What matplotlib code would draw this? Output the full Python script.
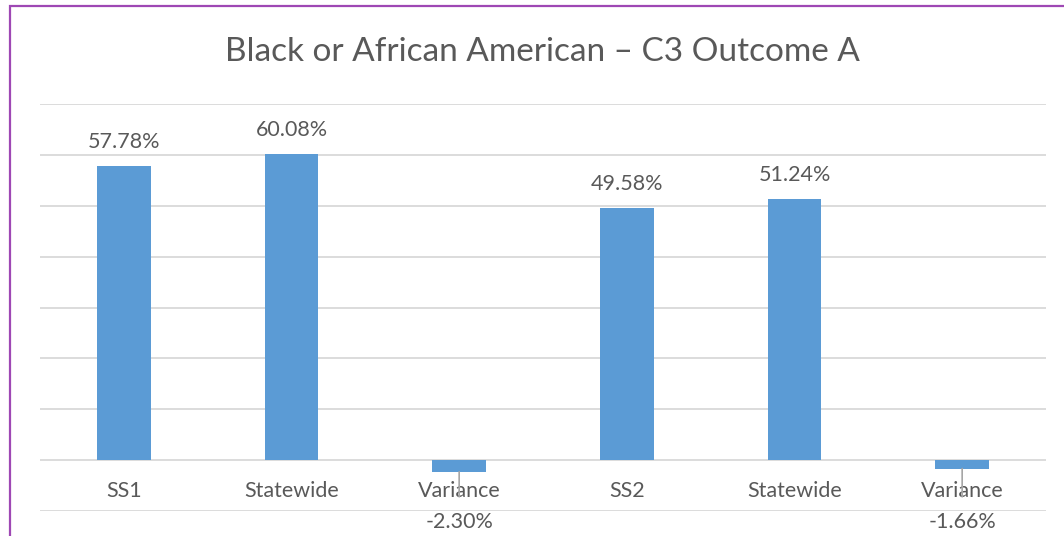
import matplotlib
matplotlib.use("Agg")
import matplotlib.pyplot as plt
from matplotlib.patches import Rectangle

categories = ["SS1", "Statewide", "Variance", "SS2", "Statewide", "Variance"]
values = [57.78, 60.08, -2.30, 49.58, 51.24, -1.66]
labels = ["57.78%", "60.08%", "-2.30%", "49.58%", "51.24%", "-1.66%"]
title = "Black or African American \u2013 C3 Outcome A"

TEXT = "#595959"
BAR = "#5B9BD5"
GRID = "#D9D9D9"

plt.rcParams['font.family'] = ['Lato', 'DejaVu Sans']

W, H = 1064, 536
fig = plt.figure(figsize=(W / 100, H / 100), dpi=100)
ax = fig.add_axes([40 / W, 25 / H, (1046 - 40) / W, (511 - 104) / H])

x = list(range(len(categories)))
ax.bar(x, values, width=0.32, color=BAR, zorder=3)
ax.set_xlim(-0.5, len(categories) - 0.5)
ax.set_ylim(-10, 70)
ax.set_yticks(range(-10, 71, 10))
ax.yaxis.grid(True, color=GRID, linewidth=1.3, zorder=0)
ax.tick_params(left=False, labelleft=False, bottom=False, labelbottom=False)
for s in ax.spines.values():
    s.set_visible(False)

FS = 15.5
for i, (c, v, lab) in enumerate(zip(categories, values, labels)):
    ax.annotate(c, xy=(i, 0), xytext=(0, -31), textcoords='offset pixels',
                ha='center', va='center', fontsize=FS, color=TEXT, zorder=2)
    if v >= 0:
        ax.annotate(lab, xy=(i, v), xytext=(0, 24), textcoords='offset pixels',
                    ha='center', va='center', fontsize=FS, color=TEXT)
    else:
        ax.annotate(lab, xy=(i, v), xytext=(0, -62 - v * 5.1), textcoords='offset pixels',
                    ha='center', va='center', fontsize=FS, color=TEXT,
                    arrowprops=dict(arrowstyle='-', color='#A6A6A6', lw=1.2,
                                    shrinkA=9, shrinkB=0))

fig.text(542 / W, 1 - 52 / H, title, ha='center', va='center', fontsize=24, color=TEXT)

fig.patches.append(Rectangle((10 / W, -0.1), 1.2, 1 - 6 / H + 0.1, transform=fig.transFigure,
                             fill=False, edgecolor='#9E48B4', linewidth=1.6))

fig.savefig("out.png", dpi=100)
